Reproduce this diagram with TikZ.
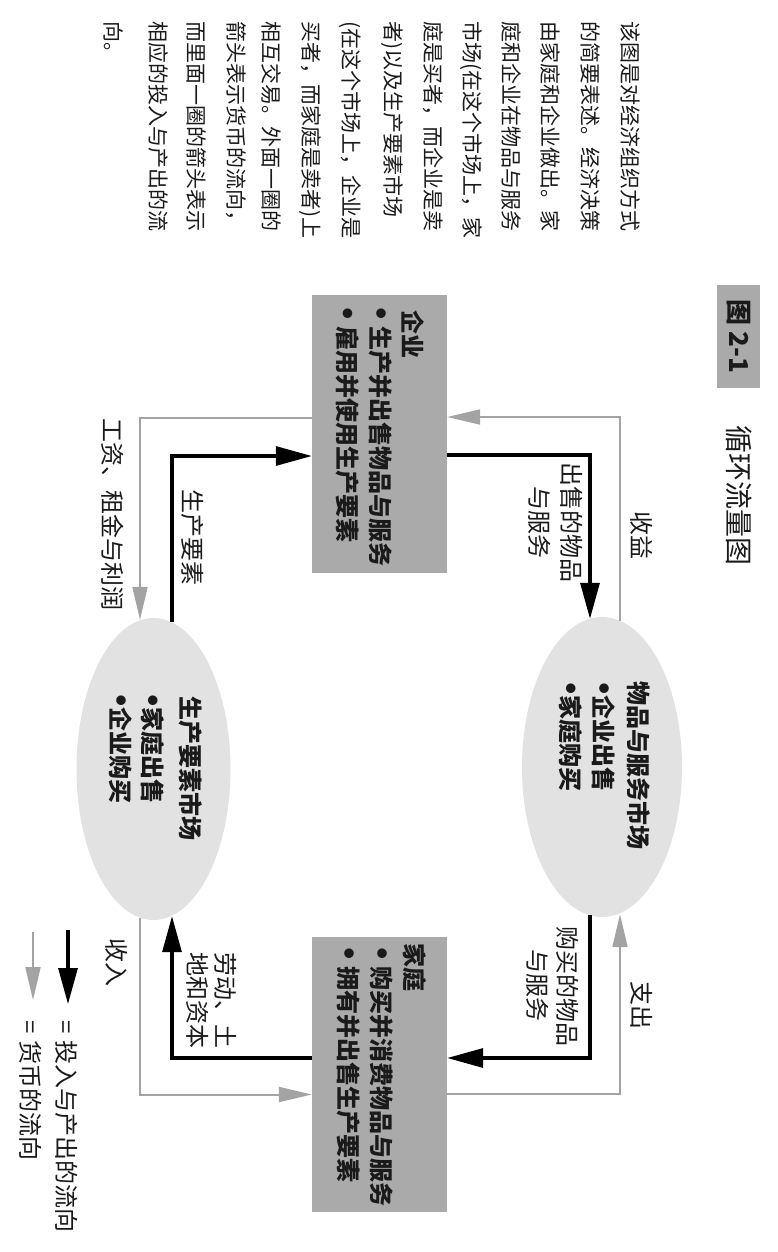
\documentclass[tikz,border=0pt]{standalone}
\usepackage{fontspec}
\setmainfont{Noto Sans CJK SC}
\usetikzlibrary{arrows.meta,shapes.geometric,calc}
\definecolor{boxgray}{HTML}{AAAAAA}
\definecolor{ellgray}{HTML}{E2E2E2}
\definecolor{arrgray}{HTML}{A3A3A3}
\definecolor{inkc}{HTML}{1A1A1A}
\newcommand{\bul}{\raisebox{3pt}{$\bullet$}}
\begin{document}
\begin{tikzpicture}[x=1pt,y=-1pt,
  vtext/.style={rotate=-90, inner sep=0pt, text=inkc},
  captxt/.style={vtext, anchor=west, font=\fontsize{21}{25}\selectfont},
  boxtxt/.style={vtext, anchor=west, font=\fontsize{24}{28}\selectfont\bfseries},
  lbl/.style={vtext, anchor=center, font=\fontsize{24}{28}\selectfont},
  keytxt/.style={vtext, anchor=west, font=\fontsize{24}{28}\selectfont},
  agent/.style={rectangle, fill=boxgray, inner sep=0pt, minimum width=135pt, minimum height=278pt},
  market/.style={ellipse, fill=ellgray, inner sep=0pt},
  flowarr/.style={draw=black, line width=3.2pt, -{Triangle[length=36pt,width=19pt]}},
  moneyarr/.style={draw=arrgray, line width=2pt, -{Triangle[length=33pt,width=15pt]}}
]
\useasboundingbox (0,0) rectangle (778,1252);

% agents and markets
\node[agent] (firms) at (379.5,434) {};
\node[agent, minimum height=275pt] (house) at (379.5,1074.5) {};
\node[market, minimum width=160pt, minimum height=300pt] (goods) at (602,767) {};
\node[market, minimum width=154pt, minimum height=302pt] (factor) at (153.5,769) {};

% title
\node[vtext, anchor=center, fill=boxgray, minimum width=103pt, minimum height=43pt,
      font=\fontsize{26}{30}\selectfont\bfseries] (fig) at (738.5,336.5) {图 2-1};
\node[vtext, anchor=center, font=\fontsize{28}{32}\selectfont] (ttl) at (739,495) {循环流量图};

% caption
\node[captxt] (c1) at (630,21) {该图是对经济组织方式};
\node[captxt] (c2) at (590,21) {的简要表述。经济决策};
\node[captxt] (c3) at (551,21) {由家庭和企业做出。家};
\node[captxt] (c4) at (512,21) {庭和企业在物品与服务};
\node[captxt] (c5) at (471,21) {市场(在这个市场上，家};
\node[captxt] (c6) at (433,21) {庭是买者，而企业是卖};
\node[captxt] (c7) at (392,21) {者)以及生产要素市场};
\node[captxt] (c8) at (350,21) {(在这个市场上，企业是};
\node[captxt] (c9) at (310,21) {买者，而家庭是卖者)上};
\node[captxt] (c10) at (272,21) {相互交易。外面一圈的};
\node[captxt] (c11) at (236,21) {箭头表示货币的流向，};
\node[captxt] (c12) at (197,21) {而里面一圈的箭头表示};
\node[captxt] (c13) at (158,21) {相应的投入与产出的流};
\node[captxt] (c14) at (113,21) {向。};

% flows of inputs and outputs (black)
\draw[flowarr] ($(firms.east)+(0,21)$) -| ($(goods.north)+(-12,2)$);
\draw[flowarr] ($(goods.south)+(-12,-2)$) |- ($(house.east)+(0,-16.5)$);
\draw[flowarr] ($(house.west)+(0,-16.5)$) -| ($(factor.south)+(18.5,-4)$);
\draw[flowarr] ($(factor.north)+(18.5,4)$) |- ($(firms.west)+(0,22)$);

% flows of money (gray)
\draw[moneyarr] ($(goods.north)+(18,4)$) |- ($(firms.east)+(0,-17)$);
\draw[moneyarr] ($(house.east)+(0,19.5)$) -| ($(goods.south)+(18,-3)$);
\draw[moneyarr] ($(factor.south)+(-13.5,-2)$) |- ($(house.west)+(0,20)$);
\draw[moneyarr] ($(firms.west)+(0,-16)$) -| ($(factor.north)+(-13.5,2)$);

% box texts
\node[boxtxt] (fT) at (413,310) {企业};
\node[boxtxt] (f1) at (381,307) {\bul\hspace{7pt}生产并出售物品与服务};
\node[boxtxt] (f2) at (347.5,307) {\bul\hspace{7pt}雇用并使用生产要素};
\node[boxtxt] (hT) at (415,943) {家庭};
\node[boxtxt] (h1) at (382,947) {\bul\hspace{7pt}购买并消费物品与服务};
\node[boxtxt] (h2) at (349,947) {\bul\hspace{7pt}拥有并出售生产要素};

% market texts
\node[boxtxt] (gT) at (639,681) {物品与服务市场};
\node[boxtxt] (g1) at (604,682) {\bul\hspace{1pt}企业出售};
\node[boxtxt] (g2) at (571,682) {\bul\hspace{1pt}家庭购买};
\node[boxtxt] (mT) at (191,696) {生产要素市场};
\node[boxtxt] (m1) at (153,694) {\bul\hspace{1pt}家庭出售};
\node[boxtxt] (m2) at (121,694) {\bul\hspace{1pt}企业购买};

% connector labels
\node[lbl] (ls1) at (572,522) {出售的物品};
\node[lbl] (ls2) at (540,522) {与服务};
\node[lbl] (lb1) at (568,986) {购买的物品};
\node[lbl] (lb2) at (538,985) {与服务};
\node[lbl] (ll1) at (226,1000) {劳动、土};
\node[lbl] (ll2) at (198,1000) {地和资本};
\node[lbl] (lf) at (193,537) {生产要素};
\node[lbl] (lr) at (642,535) {收益};
\node[lbl] (le) at (642,1005) {支出};
\node[lbl] (li) at (117,962) {收入};
\node[lbl] (lw) at (113,514) {工资、租金与利润};

% legend
\coordinate (kb1) at (68,930);
\coordinate (kb2) at (68,1004);
\draw[flowarr] (kb1) -- (kb2);
\coordinate (kg1) at (33,932);
\coordinate (kg2) at (33,1000);
\draw[moneyarr] (kg1) -- (kg2);
\node[keytxt] (kbt) at (67,1020) {=\hspace{7pt}投入与产出的流向};
\node[keytxt] (kgt) at (31,1020) {=\hspace{7pt}货币的流向};
\end{tikzpicture}
\end{document}
